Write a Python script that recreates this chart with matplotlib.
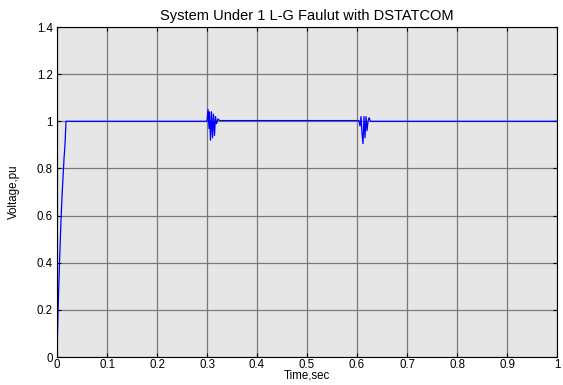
import matplotlib.pyplot as plt

plt.rcParams['font.family'] = ['Liberation Sans', 'DejaVu Sans']

# time (s) and voltage (pu)
time = [0.0, 0.001, 0.002, 0.003, 0.004, 0.005, 0.006, 0.007, 0.008, 0.009,
        0.010, 0.011, 0.012, 0.013, 0.014, 0.015, 0.016, 0.017, 0.018,
        0.100, 0.200, 0.299,
        0.300, 0.302, 0.304, 0.305, 0.307, 0.309, 0.311, 0.313, 0.315,
        0.317, 0.319, 0.322, 0.325, 0.330,
        0.400, 0.500, 0.604,
        0.606, 0.608, 0.610, 0.612, 0.614, 0.616, 0.618, 0.620, 0.622,
        0.624, 0.627, 0.630, 0.635,
        0.700, 0.800, 0.900, 1.000]
voltage = [0.0, 0.10, 0.18, 0.26, 0.33, 0.40, 0.46, 0.52, 0.58, 0.63,
           0.68, 0.72, 0.76, 0.80, 0.84, 0.87, 0.90, 0.95, 1.0,
           1.0, 1.0, 1.0,
           1.0, 1.05, 0.97, 1.04, 0.92, 1.04, 0.93, 1.03, 0.94,
           1.02, 0.99, 1.01, 1.003, 1.003,
           1.003, 1.003, 1.003,
           0.98, 1.02, 0.95, 0.905, 1.02, 0.93, 1.02, 0.96, 1.0,
           1.015, 1.0, 1.0, 1.0,
           1.0, 1.0, 1.0, 1.0]

xticks = [0, 0.1, 0.2, 0.3, 0.4, 0.5, 0.6, 0.7, 0.8, 0.9, 1]
xtick_labels = ['0', '0.1', '0.2', '0.3', '0.4', '0.5', '0.6', '0.7', '0.8', '0.9', '1']
yticks = [0, 0.2, 0.4, 0.6, 0.8, 1.0, 1.2, 1.4]
ytick_labels = ['0', '0.2', '0.4', '0.6', '0.8', '1', '1.2', '1.4']

fig = plt.figure(figsize=(5.63, 3.85), dpi=100)
ax = fig.add_axes([57 / 563, 1 - 357 / 385, 500 / 563, 330 / 385])
ax.set_facecolor('#e6e6e6')

ax.plot(time, voltage, color='#0000ff', linewidth=0.9)

ax.set_xlim(0, 1)
ax.set_ylim(0, 1.4)
ax.set_xticks(xticks)
ax.set_xticklabels(xtick_labels)
ax.set_yticks(yticks)
ax.set_yticklabels(ytick_labels)
ax.grid(True, color='#7a7a7a', linewidth=0.9, linestyle='-')
ax.set_axisbelow(True)
ax.tick_params(direction='in', length=3, labelsize=8.3, top=True, right=True)
ax.tick_params(axis='x', pad=1.5)
ax.tick_params(axis='y', pad=3)
for s in ax.spines.values():
    s.set_color('black')
    s.set_linewidth(0.8)

ax.set_title('System Under 1 L-G Faulut with DSTATCOM', fontsize=10.5, pad=5)
ax.set_xlabel('Time,sec', fontsize=8.3, labelpad=-1)
ax.set_ylabel('Voltage,pu', fontsize=8.3, labelpad=12)

fig.savefig('out.png', dpi=100)
